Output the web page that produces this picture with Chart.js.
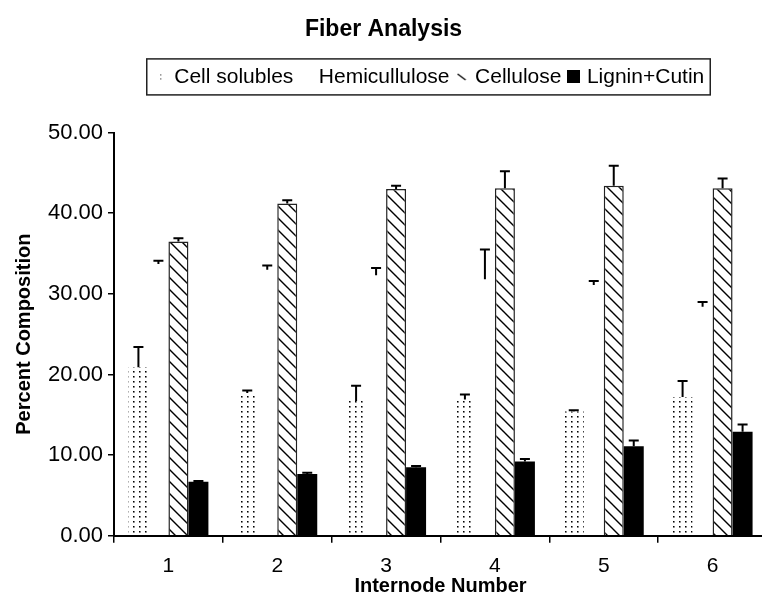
<!DOCTYPE html>
<html>
<head>
<meta charset="utf-8">
<title>Fiber Analysis</title>
<script src="https://cdn.jsdelivr.net/npm/chart.js@4.4.1/dist/chart.umd.min.js"></script>
<style>
    html, body { margin: 0; padding: 0; background: #fff; overflow: hidden; }
    #wrap { width: 762px; height: 602px; overflow: hidden; }
</style>
</head>
<body>
<div id="wrap"><canvas id="fiberchart" width="767" height="602"></canvas></div>
<script>
// data
const categories = ["1", "2", "3", "4", "5", "6"];
const seriesNames = ["Cell solubles", "Hemicullulose", "Cellulose", "Lignin+Cutin"];
const cellSolubles = [20.9, 17.7, 16.7, 16.9, 15.4, 17.2];
const cellSolublesErr = [2.5, 0.3, 1.9, 0.6, 0.15, 2.0];
const hemicellulose = [33.7, 33.0, 32.3, 31.8, 31.1, 28.4];
const hemicelluloseErr = [0.4, 0.5, 0.9, 3.7, 0.5, 0.6];
const cellulose = [36.5, 41.2, 43.0, 43.1, 43.4, 43.1];
const celluloseErr = [0.4, 0.4, 0.4, 2.1, 2.5, 1.2];
const lignin = [6.7, 7.65, 8.5, 9.2, 11.1, 12.9];
const ligninErr = [0.1, 0.15, 0.15, 0.3, 0.7, 0.9];
const yTicks = { min: 0, max: 50, step: 10 };

// layout
const Y_AXIS_WIDTH = 114;
const X_AXIS_HEIGHT = 66.3;
const LEGEND_CENTER_X = 431;

const canvas = document.getElementById("fiberchart");
const ctx = canvas.getContext("2d");

function tile(w, h, paint) {
    const c = document.createElement("canvas");
    c.width = w;
    c.height = h;
    paint(c.getContext("2d"));
    return c;
}

// fill patterns
const dotPattern = ctx.createPattern(tile(6, 5, (g) => {
    g.fillStyle = "#000";
    g.fillRect(1, 1, 1, 1);
    g.fillStyle = "#777";
    g.fillRect(2, 1, 1, 1);
    g.fillRect(1, 2, 1, 1);
    g.fillStyle = "#aaa";
    g.fillRect(2, 2, 1, 1);
}), "repeat");

const hatchPattern = ctx.createPattern(tile(12, 12, (g) => {
    g.fillStyle = "#fff";
    g.fillRect(0, 0, 12, 12);
    g.strokeStyle = "#000";
    g.lineWidth = 1.4;
    g.beginPath();
    g.moveTo(-1, -1); g.lineTo(13, 13);
    g.moveTo(-1, 11); g.lineTo(1, 13);
    g.moveTo(11, -1); g.lineTo(13, 1);
    g.stroke();
}), "repeat");

// legend markers
const legendMarkers = [
    tile(3, 7, (g) => { g.fillStyle = "#000"; g.fillRect(1, 1, 1, 1); g.fillRect(1, 5, 1, 1); }),
    tile(1, 1, () => {}),
    tile(10, 8, (g) => {
        g.strokeStyle = "#000"; g.lineWidth = 1.3;
        g.beginPath(); g.moveTo(1, 1); g.lineTo(9, 7); g.stroke();
    }),
    tile(13, 13, (g) => { g.fillStyle = "#000"; g.fillRect(0, 0, 13, 13); }),
];

// draws the upper error bars on every bar
const errorBarPlugin = {
    id: "errorBars",
    afterDatasetsDraw(chart) {
        const c = chart.ctx;
        const yScale = chart.scales.y;
        c.save();
        c.strokeStyle = "#000";
        c.lineWidth = 2;
        chart.data.datasets.forEach((ds, i) => {
            const meta = chart.getDatasetMeta(i);
            meta.data.forEach((bar, j) => {
                const top = yScale.getPixelForValue(ds.data[j] + ds.errorBars[j]);
                c.beginPath();
                c.moveTo(bar.x, bar.y);
                c.lineTo(bar.x, top);
                c.moveTo(bar.x - 5, top);
                c.lineTo(bar.x + 5, top);
                c.stroke();
            });
        });
        c.restore();
    },
};

// move the legend right and put a frame round it
const legendFramePlugin = {
    id: "legendFrame",
    afterLayout(chart) {
        const lg = chart.legend;
        const dx = LEGEND_CENTER_X - (lg.left + lg.right) / 2;
        lg.left += dx;
        lg.right += dx;
    },
    afterDraw(chart) {
        const boxes = chart.legend.legendHitBoxes;
        if (!boxes.length) return;
        const left = Math.min(...boxes.map((b) => b.left));
        const right = Math.max(...boxes.map((b) => b.left + b.width));
        const cy = boxes[0].top + boxes[0].height / 2;
        const c = chart.ctx;
        c.save();
        c.strokeStyle = "#222";
        c.lineWidth = 1.5;
        c.strokeRect(left - 11, cy - 18, right - left + 17, 36);
        c.restore();
    },
};

Chart.defaults.font.family = "'Liberation Sans', Arial, sans-serif";
Chart.defaults.font.size = 21;
Chart.defaults.color = "#000";

new Chart(canvas, {
    type: "bar",
    data: {
        labels: categories,
        datasets: [
            {
                label: seriesNames[0],
                data: cellSolubles,
                errorBars: cellSolublesErr,
                backgroundColor: dotPattern,
                borderWidth: 0,
            },
            {
                label: seriesNames[1],
                data: hemicellulose,
                errorBars: hemicelluloseErr,
                backgroundColor: "rgba(0,0,0,0)",
                borderWidth: 0,
            },
            {
                label: seriesNames[2],
                data: cellulose,
                errorBars: celluloseErr,
                backgroundColor: hatchPattern,
                borderColor: "#222",
                borderWidth: 1.5,
                borderSkipped: "start",
            },
            {
                label: seriesNames[3],
                data: lignin,
                errorBars: ligninErr,
                backgroundColor: "#000",
                borderWidth: 0,
            },
        ],
    },
    options: {
        responsive: false,
        maintainAspectRatio: false,
        animation: false,
        datasets: {
            bar: { categoryPercentage: 0.735, barPercentage: 1.0 },
        },
        plugins: {
            title: {
                display: true,
                text: "Fiber Analysis",
                font: { size: 23, weight: "bold" },
                padding: { top: 16.2, bottom: 13.6 },
            },
            subtitle: {
                // empty spacer between legend and plot
                display: true,
                text: "",
                weight: 500,
                font: { size: 10 },
                padding: { top: 23.2, bottom: 0 },
            },
            legend: {
                position: "top",
                labels: {
                    usePointStyle: true,
                    pointStyleWidth: 6,
                    padding: 9,
                    font: { size: 21 },
                    color: "#000",
                    generateLabels(chart) {
                        return chart.data.datasets.map((ds, i) => ({
                            text: ds.label,
                            pointStyle: legendMarkers[i],
                            fillStyle: "rgba(0,0,0,0)",
                            strokeStyle: "rgba(0,0,0,0)",
                            lineWidth: 0,
                            hidden: false,
                            datasetIndex: i,
                            fontColor: "#000",
                        }));
                    },
                },
            },
            tooltip: { enabled: false },
        },
        scales: {
            x: {
                grid: {
                    display: true,
                    drawOnChartArea: false,
                    drawTicks: true,
                    tickLength: 7,
                    lineWidth: 1.5,
                    color: "#000",
                    offset: true,
                },
                border: { display: true, color: "#000", width: 2 },
                ticks: { padding: 11, font: { size: 21 }, color: "#000" },
                title: {
                    display: true,
                    text: "Internode Number",
                    font: { size: 20, weight: "bold" },
                    color: "#000",
                    padding: { top: 0, bottom: 4 },
                },
                afterFit(scale) {
                    scale.height = X_AXIS_HEIGHT;
                },
            },
            y: {
                min: yTicks.min,
                max: yTicks.max,
                ticks: {
                    stepSize: yTicks.step,
                    callback: (v) => v.toFixed(2),
                    padding: 5,
                    font: { size: 22 },
                    color: "#000",
                },
                grid: {
                    drawOnChartArea: false,
                    tickLength: 6,
                    lineWidth: 1.5,
                    color: "#000",
                },
                border: { display: true, color: "#000", width: 2 },
                title: {
                    display: true,
                    text: "Percent Composition",
                    font: { size: 20, weight: "bold" },
                    color: "#000",
                    padding: { top: 12, bottom: 0 },
                },
                afterFit(scale) {
                    scale.width = Y_AXIS_WIDTH;
                },
            },
        },
    },
    plugins: [errorBarPlugin, legendFramePlugin],
});
</script>
</body>
</html>
